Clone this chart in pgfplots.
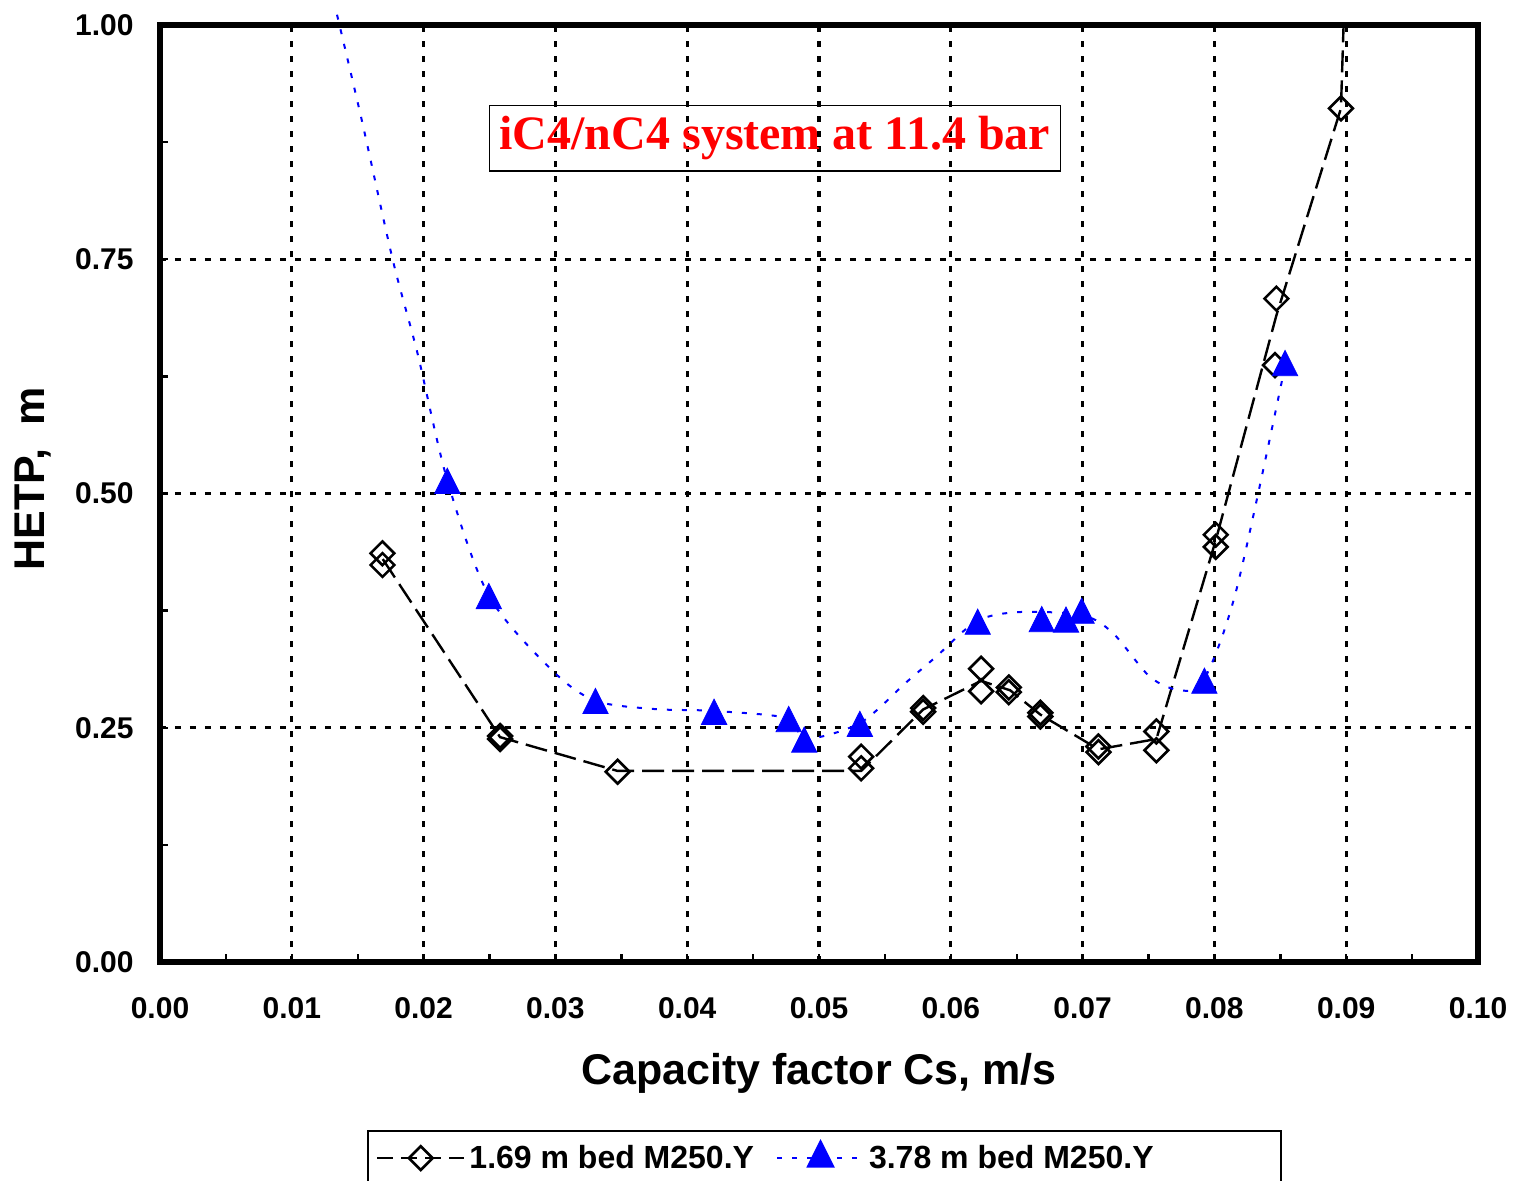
\documentclass[border=0pt]{standalone}
\usepackage{fontspec}
\setmainfont{Liberation Sans}
\newfontfamily\serifbf{Liberation Serif}
\usepackage{pgfplots}
\pgfplotsset{compat=1.18}

\begin{document}
\begin{tikzpicture}
\begin{axis}[
  name=ax,
  scale only axis, width=659pt, height=468.5pt,
  xmin=0, xmax=0.1, ymin=0, ymax=1,
  clip=false,
  xtick={0,0.01,0.02,0.03,0.04,0.05,0.06,0.07,0.08,0.09,0.1},
  ytick={0,0.25,0.5,0.75,1},
  minor xtick={0.005,0.015,0.025,0.035,0.045,0.055,0.065,0.075,0.085,0.095},
  minor ytick={0.125,0.375,0.625,0.875},
  scaled x ticks=false, scaled y ticks=false,
  /pgf/number format/.cd, fixed, fixed zerofill, precision=2, assume math mode=true,
  /pgfplots/.cd,
  tick pos=left, tick align=inside,
  major tick length=4pt, minor tick length=4pt,
  every tick/.style={black, line width=1.2pt},
  grid=major,
  major grid style={black, line width=1.6pt, dash pattern=on 3pt off 4.5pt},
  axis line style={line width=3pt},
  ticklabel style={font=\bfseries\fontsize{15}{18}\selectfont},
  xticklabel style={anchor=center, yshift=-23pt},
  yticklabel style={anchor=east, inner sep=0pt, xshift=-13pt},
  xlabel={Capacity factor Cs, m/s},
  ylabel={HETP,\ \ m},
  every axis x label/.style={at={(axis description cs:0.5,-0.11846)}, anchor=center,
    font=\bfseries\fontsize{21.5}{25}\selectfont},
  every axis y label/.style={at={(axis description cs:-0.09636,0.516)}, anchor=center, rotate=90,
    font=\bfseries\fontsize{21.5}{25}\selectfont},
  legend image code/.code={\draw[mark repeat=2,mark phase=2] plot coordinates {(0pt,0pt)(21.75pt,0pt)(43.5pt,0pt)};},
  legend columns=2,
  legend style={at={(0.1571,-0.1793)}, anchor=north west, draw=black, line width=1pt,
    font=\bfseries\fontsize{16}{19}\selectfont, inner xsep=4pt, inner ysep=5pt,
    /tikz/every even column/.append style={column sep=9pt}},
  legend cell align=left,
]
% 1.69 m bed: trend line
\addplot[black, line width=1.2pt, dash pattern=on 11pt off 4pt, forget plot] coordinates {
 (0.0169,0.430) (0.0258,0.240) (0.0347,0.204) (0.0532,0.204) (0.0579,0.2695)
 (0.0623,0.300) (0.0645,0.290) (0.0668,0.264) (0.0712,0.227) (0.0756,0.238)
 (0.0801,0.450) (0.0847,0.690) (0.0896,0.911) (0.0898,1.000)
};
% 1.69 m bed: data
\addplot[only marks, black, mark=square, mark size=4.2pt, mark options={rotate=45, solid, line width=1.3pt}, forget plot] coordinates {
 (0.01688,0.4362) (0.01688,0.4237) (0.0258,0.2412) (0.0258,0.2380) (0.03472,0.2031)
 (0.0532,0.2191) (0.0532,0.2067) (0.0579,0.2710) (0.0579,0.2670) (0.0623,0.3130)
 (0.0623,0.2890) (0.0644,0.2930) (0.0644,0.2880) (0.0668,0.2660) (0.0668,0.2620)
 (0.0712,0.2300) (0.0712,0.2240) (0.0756,0.2460) (0.0756,0.2260) (0.0801,0.4560)
 (0.0801,0.4430) (0.0847,0.7080) (0.0846,0.6370) (0.0896,0.9110)
};
% 3.78 m bed: trend line
\addplot[blue, line width=1pt, dash pattern=on 2.5pt off 5pt, smooth, tension=0.5, forget plot] coordinates {
 (0.01343,1.011) (0.0153,0.899) (0.01765,0.750) (0.01953,0.650) (0.0218,0.514)
 (0.02495,0.391) (0.0297,0.312) (0.0330,0.279) (0.0375,0.270) (0.0420,0.268)
 (0.0477,0.260) (0.0489,0.238) (0.0531,0.255) (0.05666,0.299) (0.0589,0.326)
 (0.0620,0.364) (0.06525,0.3735) (0.0700,0.370) (0.0723,0.351) (0.0751,0.3045)
 (0.0774,0.290) (0.0792,0.301) (0.0817,0.399) (0.0854,0.639)
};
% 3.78 m bed: data
\addplot[only marks, blue, mark=triangle*, mark size=7.3pt, mark options={solid, fill=blue, yscale=1.15, yshift=-2pt}, forget plot] coordinates {
 (0.0218,0.514) (0.02495,0.391) (0.03304,0.279) (0.04204,0.2675) (0.0477,0.2597)
 (0.04888,0.2378) (0.0531,0.2547) (0.06204,0.3636) (0.0669,0.3664) (0.06874,0.3659)
 (0.06993,0.3753) (0.07924,0.3006) (0.08536,0.6396)
};
\addlegendimage{black, line width=1.2pt, dash pattern=on 8pt off 4pt, mark=square, mark size=4.2pt, mark options={rotate=45, solid, line width=1.3pt}}
\addlegendentry{1.69 m bed M250.Y}
\addlegendimage{blue, line width=1pt, dash pattern=on 2.5pt off 5pt, mark=triangle*, mark size=7.3pt, mark options={solid, fill=blue, yscale=1.15}}
\addlegendentry{\makebox[200pt][l]{3.78 m bed M250.Y}}

\node[draw=black, line width=0.75pt, inner xsep=5pt, inner ysep=5.5pt, text=red,
  font=\serifbf\bfseries\fontsize{24}{28}\selectfont] at (axis cs:0.04666,0.879) {iC4/nC4 system at 11.4 bar};
\end{axis}
\pgfresetboundingbox
\path[use as bounding box] ([xshift=-80pt,yshift=-109pt]ax.south west) rectangle ([xshift=20pt,yshift=12.5pt]ax.north east);
\end{tikzpicture}
\end{document}
